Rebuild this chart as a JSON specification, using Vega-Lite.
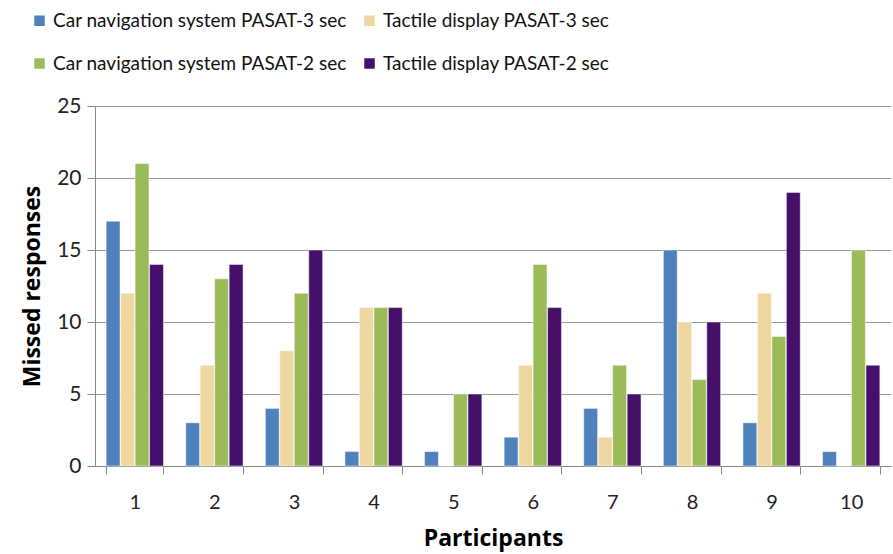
{
  "$schema": "https://vega.github.io/schema/vega-lite/v6.json",
  "autosize": {"type": "none"},
  "width": 796,
  "height": 360,
  "padding": {"left": 95, "top": 106, "right": 2, "bottom": 88},
  "background": "white",
  "config": {
    "font": "Lato",
    "view": {"stroke": null}
  },
  "data": {
    "values": [
      {"p": "1", "s": "Car navigation system  PASAT-3 sec", "v": 17},
      {"p": "1", "s": "Tactile display PASAT-3 sec", "v": 12},
      {"p": "1", "s": "Car navigation system  PASAT-2 sec", "v": 21},
      {"p": "1", "s": "Tactile display PASAT-2 sec", "v": 14},
      {"p": "2", "s": "Car navigation system  PASAT-3 sec", "v": 3},
      {"p": "2", "s": "Tactile display PASAT-3 sec", "v": 7},
      {"p": "2", "s": "Car navigation system  PASAT-2 sec", "v": 13},
      {"p": "2", "s": "Tactile display PASAT-2 sec", "v": 14},
      {"p": "3", "s": "Car navigation system  PASAT-3 sec", "v": 4},
      {"p": "3", "s": "Tactile display PASAT-3 sec", "v": 8},
      {"p": "3", "s": "Car navigation system  PASAT-2 sec", "v": 12},
      {"p": "3", "s": "Tactile display PASAT-2 sec", "v": 15},
      {"p": "4", "s": "Car navigation system  PASAT-3 sec", "v": 1},
      {"p": "4", "s": "Tactile display PASAT-3 sec", "v": 11},
      {"p": "4", "s": "Car navigation system  PASAT-2 sec", "v": 11},
      {"p": "4", "s": "Tactile display PASAT-2 sec", "v": 11},
      {"p": "5", "s": "Car navigation system  PASAT-3 sec", "v": 1},
      {"p": "5", "s": "Tactile display PASAT-3 sec", "v": 0},
      {"p": "5", "s": "Car navigation system  PASAT-2 sec", "v": 5},
      {"p": "5", "s": "Tactile display PASAT-2 sec", "v": 5},
      {"p": "6", "s": "Car navigation system  PASAT-3 sec", "v": 2},
      {"p": "6", "s": "Tactile display PASAT-3 sec", "v": 7},
      {"p": "6", "s": "Car navigation system  PASAT-2 sec", "v": 14},
      {"p": "6", "s": "Tactile display PASAT-2 sec", "v": 11},
      {"p": "7", "s": "Car navigation system  PASAT-3 sec", "v": 4},
      {"p": "7", "s": "Tactile display PASAT-3 sec", "v": 2},
      {"p": "7", "s": "Car navigation system  PASAT-2 sec", "v": 7},
      {"p": "7", "s": "Tactile display PASAT-2 sec", "v": 5},
      {"p": "8", "s": "Car navigation system  PASAT-3 sec", "v": 15},
      {"p": "8", "s": "Tactile display PASAT-3 sec", "v": 10},
      {"p": "8", "s": "Car navigation system  PASAT-2 sec", "v": 6},
      {"p": "8", "s": "Tactile display PASAT-2 sec", "v": 10},
      {"p": "9", "s": "Car navigation system  PASAT-3 sec", "v": 3},
      {"p": "9", "s": "Tactile display PASAT-3 sec", "v": 12},
      {"p": "9", "s": "Car navigation system  PASAT-2 sec", "v": 9},
      {"p": "9", "s": "Tactile display PASAT-2 sec", "v": 19},
      {"p": "10", "s": "Car navigation system  PASAT-3 sec", "v": 1},
      {"p": "10", "s": "Tactile display PASAT-3 sec", "v": 0},
      {"p": "10", "s": "Car navigation system  PASAT-2 sec", "v": 15},
      {"p": "10", "s": "Tactile display PASAT-2 sec", "v": 7}
    ]
  },
  "mark": {"type": "bar", "stroke": "white", "strokeWidth": 0.5},
  "encoding": {
    "x": {
      "field": "p", "type": "nominal", "sort": null,
      "scale": {"paddingInner": 0.28, "paddingOuter": 0.14},
      "axis": {
        "title": "Participants", "titleFont": "Open Sans", "titleFontSize": 23, "titleFontWeight": "bold", "titleColor": "black", "titlePadding": 15,
        "labelAngle": 0, "labelFontSize": 20, "labelColor": "#222", "labelPadding": 18,
        "tickBand": "extent", "tickSize": 8, "tickColor": "#888", "domainColor": "#888", "grid": false
      }
    },
    "xOffset": {
      "field": "s", "type": "nominal", "sort": null,
      "scale": {"paddingInner": 0.04}
    },
    "y": {
      "field": "v", "type": "quantitative",
      "scale": {"domain": [0, 25]},
      "axis": {
        "title": "Missed responses", "titleFont": "Open Sans", "titleFontSize": 23, "titleFontWeight": "bold", "titleColor": "black", "titlePadding": 12,
        "values": [0, 5, 10, 15, 20, 25], "labelFontSize": 21, "labelColor": "#222", "labelPadding": 6,
        "tickSize": 8, "tickColor": "#888", "domainColor": "#888", "gridColor": "#999", "gridWidth": 1
      }
    },
    "color": {
      "field": "s", "type": "nominal", "sort": null,
      "scale": {
        "domain": ["Car navigation system  PASAT-3 sec", "Tactile display PASAT-3 sec", "Car navigation system  PASAT-2 sec", "Tactile display PASAT-2 sec"],
        "range": ["#4F81BD", "#EED7A0", "#9BBB59", "#46106A"]
      },
      "legend": {
        "title": null, "orient": "none", "legendX": -65, "legendY": -95, "columns": 2, "direction": "horizontal",
        "symbolType": "square", "symbolSize": 110, "symbolStrokeWidth": 0,
        "labelFont": "Lato", "labelFontSize": 19, "labelColor": "#111", "labelLimit": 400,
        "rowPadding": 23, "columnPadding": 8, "labelOffset": 4
      }
    }
  }
}
